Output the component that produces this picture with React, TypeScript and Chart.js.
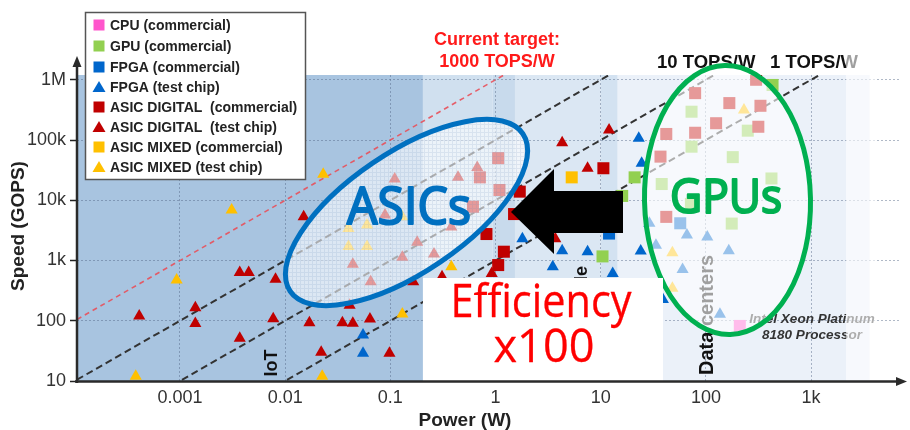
import { useEffect, useRef } from 'react';
import { Chart, registerables } from 'chart.js';

Chart.register(...registerables);

// ---- data: [power (W), speed (GOPS)] ----
const cpuCommercial: number[][] = [[210, 82]];
const gpuCommercial: number[][] = [
  [21, 24000], [16, 11800], [10.4, 1170], [430, 820000], [73, 295000], [73, 77500],
  [250, 143000], [180, 52000], [38, 18600], [420, 23000], [72, 8700], [176, 4100],
];
const fpgaCommercial: number[][] = [[12, 2800], [57, 4150]];
const fpgaTestChip: number[][] = [
  [0.055, 58], [0.055, 29], [1.8, 2300], [4.3, 1450], [7.5, 1400], [3.5, 790], [13, 610],
  [23, 107000], [24.5, 41000], [24, 1440], [39, 225], [29, 4150], [66, 2650], [103, 2450],
  [33.5, 1800], [165, 1450], [60, 710], [136, 128],
];
const asicDigitalCommercial: number[][] = [
  [1.7, 13900], [1.5, 5900], [0.82, 2750], [1.2, 1400], [1.06, 840], [10.6, 34000],
  [1.06, 50000], [0.71, 24000], [1.09, 14800], [0.61, 7800], [79, 600000], [167, 410000],
  [330, 370000], [300, 1000000], [42, 126000], [79, 132000], [125, 190000], [315, 166000],
  [37, 53000], [42, 5300],
];
const asicDigitalTestChip: number[][] = [
  [0.0037, 630], [0.0045, 630], [0.0081, 490], [0.00041, 120], [0.0014, 165], [0.0014, 90],
  [0.0077, 108], [0.0037, 51], [0.015, 5300], [0.017, 93], [0.035, 93], [0.044, 91],
  [0.064, 107], [0.022, 30], [0.098, 29], [0.041, 180], [0.31, 540], [0.165, 445],
  [0.92, 610], [3.7, 2300], [4.3, 90000], [12, 147000], [7.5, 34000], [0.11, 22500],
  [0.44, 24000], [0.089, 5700], [0.38, 3600], [0.18, 2000], [0.13, 1130], [0.26, 1280],
  [0.044, 870], [0.065, 445], [0.67, 35000],
];
const asicMixedCommercial: number[][] = [[5.3, 24000]];
const asicMixedTestChip: number[][] = [
  [0.0031, 6900], [0.00093, 475], [0.00038, 12], [0.023, 27000], [0.0225, 12], [0.13, 130],
  [0.38, 790], [0.13, 5300], [0.04, 3400], [0.06, 3900], [0.04, 1700], [0.06, 1700],
  [230, 315000], [48, 1350], [48, 345],
];

// efficiency reference lines (TOPS/W)
const efficiencyTopsPerW = [1000, 100, 10, 1];

// axes
const X_MIN = 1.05e-4;
const X_MAX = 7000;
const Y_MIN = 10;
const Y_MAX = 1.2e6;
const xTickValues = [0.001, 0.01, 0.1, 1, 10, 100, 1000];
const xTickLabels = ['0.001', '0.01', '0.1', '1', '10', '100', '1k'];
const yTickValues = [10, 100, 1000, 10000, 100000, 1000000];
const yTickLabels = ['10', '100', '1k', '10k', '100k', '1M'];

// background power regions (W)
const powerBands = [
  [X_MIN, 0.204], [0.204, 0.94], [0.94, 1.53], [1.53, 10], [10, 14.5], [14.5, 3600],
];
const bandColors = ['#a8c4e0', '#d0e0ef', '#c8daec', '#dbe7f3', '#d3e2f1', '#ebf1f9'];

const legendLabels = [
  'CPU (commercial)', 'GPU (commercial)', 'FPGA (commercial)', 'FPGA (test chip)',
  'ASIC DIGITAL  (commercial)', 'ASIC DIGITAL  (test chip)', 'ASIC MIXED (commercial)', 'ASIC MIXED (test chip)',
];

const RED = '#c00000';
const YELLOW = '#ffc000';
const BLUE = '#0066cc';
const GREEN = '#92d050';
const PINK = '#ff55cc';
const SANS = '"Liberation Sans", Arial, sans-serif';
const BIG = '"Open Sans", "DejaVu Sans", sans-serif';

const pts = (arr: number[][]) => arr.map(([x, y]) => ({ x, y }));

function vText(ctx: CanvasRenderingContext2D, text: string, x: number, y: number, font: string, color: string, align: CanvasTextAlign) {
  ctx.save();
  ctx.translate(x, y);
  ctx.rotate(-Math.PI / 2);
  ctx.font = font;
  ctx.fillStyle = color;
  ctx.textAlign = align;
  ctx.textBaseline = 'alphabetic';
  ctx.fillText(text, 0, 0);
  ctx.restore();
}

function fitText(ctx: CanvasRenderingContext2D, text: string, cx: number, base: number, font: string, width: number, color: string, weight: number) {
  ctx.save();
  ctx.font = font;
  const w = ctx.measureText(text).width;
  ctx.translate(cx, base);
  ctx.scale(width / w, 1);
  ctx.textAlign = 'center';
  ctx.textBaseline = 'alphabetic';
  ctx.fillStyle = color;
  ctx.fillText(text, 0, 0);
  if (weight > 0) {
    ctx.strokeStyle = color;
    ctx.lineWidth = weight;
    ctx.lineJoin = 'round';
    ctx.strokeText(text, 0, 0);
  }
  ctx.restore();
}

function marker(ctx: CanvasRenderingContext2D, style: string, x: number, y: number, color: string) {
  ctx.fillStyle = color;
  if (style === 'rect') {
    ctx.fillRect(x - 5.5, y - 5.5, 11, 11);
  } else {
    ctx.beginPath();
    ctx.moveTo(x, y - 6);
    ctx.lineTo(x + 6.5, y + 5);
    ctx.lineTo(x - 6.5, y + 5);
    ctx.closePath();
    ctx.fill();
  }
}

const bandsPlugin = {
  id: 'bands',
  beforeDraw(chart: any) {
    const { ctx, chartArea, scales } = chart;
    ctx.save();
    ctx.fillStyle = '#ffffff';
    ctx.fillRect(0, 0, chart.width, chart.height);
    powerBands.forEach(([a, b], i) => {
      const x0 = scales.x.getPixelForValue(a);
      const x1 = scales.x.getPixelForValue(b);
      ctx.fillStyle = bandColors[i];
      ctx.fillRect(x0, chartArea.top, x1 - x0, chartArea.bottom - chartArea.top);
    });
    ctx.restore();
  },
};

const overlayPlugin = {
  id: 'overlay',
  afterDatasetsDraw(chart: any) {
    const { ctx, chartArea } = chart;
    const { bottom } = chartArea;
    ctx.save();

    // region labels (underneath the highlight ellipses)
    vText(ctx, 'Mobile', 587, 266, `bold 18px ${SANS}`, '#111', 'right');
    vText(ctx, 'IoT', 277, 363, `bold 18px ${SANS}`, '#111', 'center');
    vText(ctx, 'Data centers', 713, 375, `bold 20px ${SANS}`, '#111', 'left');
    ctx.font = `italic bold 13.5px ${SANS}`;
    ctx.fillStyle = '#333';
    ctx.textAlign = 'center';
    ctx.textBaseline = 'alphabetic';
    ctx.fillText('Intel Xeon Platinum', 812, 323);
    ctx.fillText('8180 Processor', 812, 339);

    ctx.font = `bold 18.5px ${SANS}`;
    ctx.fillStyle = '#111';
    ctx.textAlign = 'left';
    ctx.fillText('10 TOPS/W', 657, 68);
    ctx.fillText('1 TOPS/W', 770, 68);

    ctx.font = `bold 18px ${SANS}`;
    ctx.fillStyle = '#ff1a1a';
    ctx.textAlign = 'center';
    ctx.fillText('Current target:', 497, 45);
    ctx.fillText('1000 TOPS/W', 497, 67);

    // highlight ellipses
    const pc = document.createElement('canvas');
    pc.width = 4; pc.height = 4;
    const g = pc.getContext('2d')!;
    g.fillStyle = 'rgba(110,140,185,0.16)';
    g.fillRect(0, 0, 4, 1);
    g.fillRect(0, 1, 1, 3);
    const pattern = ctx.createPattern(pc, 'repeat');

    ctx.beginPath();
    ctx.ellipse(406.5, 212.5, 140.5, 60, -0.595, 0, Math.PI * 2);
    ctx.fillStyle = 'rgba(255,255,255,0.6)';
    ctx.fill();
    if (pattern) { ctx.fillStyle = pattern; ctx.fill(); }
    ctx.lineWidth = 5;
    ctx.strokeStyle = '#0070c0';
    ctx.stroke();

    ctx.beginPath();
    ctx.ellipse(727.5, 200, 83, 134.5, -0.02, 0, Math.PI * 2);
    ctx.fillStyle = 'rgba(255,255,255,0.6)';
    ctx.fill();
    ctx.lineWidth = 5;
    ctx.strokeStyle = '#00b050';
    ctx.stroke();

    // white box for efficiency label
    ctx.fillStyle = '#ffffff';
    ctx.fillRect(423, 278, 240, bottom - 278);

    // faint right edge overlay
    ctx.fillStyle = 'rgba(255,255,255,0.6)';
    ctx.fillRect(846, 45, 30, bottom - 45);

    // arrow
    ctx.fillStyle = '#000';
    ctx.beginPath();
    ctx.moveTo(511, 212);
    ctx.lineTo(554, 169);
    ctx.lineTo(554, 191);
    ctx.lineTo(623, 191);
    ctx.lineTo(623, 233);
    ctx.lineTo(554, 233);
    ctx.lineTo(554, 254);
    ctx.closePath();
    ctx.fill();

    // big labels
    fitText(ctx, 'ASICs', 409, 224, `52px ${BIG}`, 124, '#0070c0', 2.2);
    fitText(ctx, 'GPUs', 726, 213, `48px ${BIG}`, 112, '#00b050', 2.2);
    fitText(ctx, 'Efficiency', 541, 317, `45px ${BIG}`, 181, '#ff0000', 0.3);
    fitText(ctx, 'x100', 544, 362, `45px ${BIG}`, 101, '#ff0000', 0.3);

    ctx.restore();
  },
  afterDraw(chart: any) {
    const { ctx, chartArea } = chart;
    const { left, right, bottom, top } = chartArea;
    ctx.save();
    // axes with arrows
    ctx.strokeStyle = '#2a2a2a';
    ctx.fillStyle = '#2a2a2a';
    ctx.lineWidth = 2.5;
    ctx.beginPath();
    ctx.moveTo(left, bottom + 2);
    ctx.lineTo(left, top - 10);
    ctx.stroke();
    ctx.beginPath();
    ctx.moveTo(left, top - 19);
    ctx.lineTo(left - 4.5, top - 8);
    ctx.lineTo(left + 4.5, top - 8);
    ctx.closePath();
    ctx.fill();
    ctx.beginPath();
    ctx.moveTo(left - 2, bottom + 0.5);
    ctx.lineTo(right - 2, bottom + 0.5);
    ctx.stroke();
    ctx.beginPath();
    ctx.moveTo(right + 7, bottom + 0.5);
    ctx.lineTo(right - 4, bottom - 4);
    ctx.lineTo(right - 4, bottom + 5);
    ctx.closePath();
    ctx.fill();

    // axis titles
    ctx.fillStyle = '#222';
    ctx.font = `bold 19px ${SANS}`;
    ctx.textAlign = 'center';
    ctx.textBaseline = 'alphabetic';
    ctx.fillText('Power (W)', 465, 426);
    vText(ctx, 'Speed (GOPS)', 24, 226, `bold 19px ${SANS}`, '#222', 'center');

    // legend
    ctx.fillStyle = '#ffffff';
    ctx.fillRect(85, 12, 221, 168);
    ctx.strokeStyle = '#555';
    ctx.lineWidth = 1.5;
    ctx.strokeRect(85.5, 12.5, 220, 167);
    const styles = ['rect', 'rect', 'rect', 'triangle', 'rect', 'triangle', 'rect', 'triangle'];
    const colors = [PINK, GREEN, BLUE, BLUE, RED, RED, YELLOW, YELLOW];
    const rowsY = [25, 46, 67, 87, 107, 127, 147, 167];
    ctx.font = `bold 14px ${SANS}`;
    ctx.textAlign = 'left';
    ctx.textBaseline = 'middle';
    legendLabels.forEach((label, i) => {
      marker(ctx, styles[i], 99, rowsY[i], colors[i]);
      ctx.fillStyle = '#222';
      ctx.fillText(label, 110, rowsY[i] + 1);
    });
    ctx.restore();
  },
};

export default function App() {
  const ref = useRef<HTMLCanvasElement>(null);

  useEffect(() => {
    const canvas = ref.current;
    if (!canvas) return;

    const lineDatasets = efficiencyTopsPerW.map((eff) => ({
      type: 'scatter' as const,
      label: `${eff} TOPS/W`,
      data: [
        { x: X_MIN, y: eff * 1000 * X_MIN },
        { x: X_MAX, y: eff * 1000 * X_MAX },
      ],
      showLine: true,
      pointRadius: 0,
      borderColor: eff === 1000 ? 'rgba(232,80,90,0.9)' : '#333',
      borderWidth: eff === 1000 ? 1.6 : 2,
      borderDash: eff === 1000 ? [5, 4] : [7, 4],
      order: 5,
    }));

    const scatter = (label: string, arr: number[][], style: string, color: string) => ({
      type: 'scatter' as const,
      label,
      data: pts(arr),
      pointStyle: style,
      pointRadius: style === 'rect' ? 8.5 : 7,
      backgroundColor: color,
      borderColor: color,
      borderWidth: 0,
      order: 0,
    });

    const chart = new Chart(canvas, {
      type: 'scatter',
      data: {
        datasets: [
          ...lineDatasets,
          scatter('ASIC DIGITAL (test chip)', asicDigitalTestChip, 'triangle', RED),
          scatter('ASIC DIGITAL (commercial)', asicDigitalCommercial, 'rect', RED),
          scatter('ASIC MIXED (test chip)', asicMixedTestChip, 'triangle', YELLOW),
          scatter('ASIC MIXED (commercial)', asicMixedCommercial, 'rect', YELLOW),
          scatter('FPGA (test chip)', fpgaTestChip, 'triangle', BLUE),
          scatter('FPGA (commercial)', fpgaCommercial, 'rect', BLUE),
          scatter('GPU (commercial)', gpuCommercial, 'rect', GREEN),
          scatter('CPU (commercial)', cpuCommercial, 'rect', PINK),
        ] as any,
      },
      options: {
        animation: false,
        responsive: false,
        devicePixelRatio: 1,
        events: [],
        layout: { padding: { top: 75, right: 10, left: 0, bottom: 0 } },
        plugins: { legend: { display: false }, tooltip: { enabled: false } },
        scales: {
          x: {
            type: 'logarithmic',
            min: X_MIN,
            max: X_MAX,
            bounds: 'data',
            afterBuildTicks: (s: any) => { s.ticks = xTickValues.map((v) => ({ value: v })); },
            afterFit: (s: any) => { s.height = 49; },
            ticks: {
              autoSkip: false,
              maxRotation: 0,
              padding: 6,
              color: '#333',
              font: { family: SANS, size: 18 },
              callback: (_v: any, i: number) => xTickLabels[i],
            },
            grid: { color: 'rgba(80,100,130,0.45)', lineWidth: 1, drawTicks: false },
            border: { display: false, dash: [2, 2] },
          },
          y: {
            type: 'logarithmic',
            min: Y_MIN,
            max: Y_MAX,
            bounds: 'data',
            afterBuildTicks: (s: any) => { s.ticks = yTickValues.map((v) => ({ value: v })); },
            afterFit: (s: any) => { s.width = 77; },
            ticks: {
              autoSkip: false,
              padding: 4,
              color: '#333',
              font: { family: SANS, size: 18 },
              callback: (_v: any, i: number) => yTickLabels[i],
            },
            grid: {
              color: 'rgba(80,100,130,0.45)',
              lineWidth: 1,
              drawTicks: true,
              tickLength: 7,
              tickColor: '#222',
              tickWidth: 1.5,
              tickBorderDash: [],
            },
            border: { display: false, dash: [2, 2] },
          },
        },
      } as any,
      plugins: [bandsPlugin, overlayPlugin],
    });

    return () => chart.destroy();
  }, []);

  return (
    <div style={{ position: 'fixed', left: 0, top: 0, width: 910, height: 430, background: '#fff' }}>
      <canvas ref={ref} width={910} height={430} style={{ display: 'block', width: 910, height: 430 }} />
    </div>
  );
}
